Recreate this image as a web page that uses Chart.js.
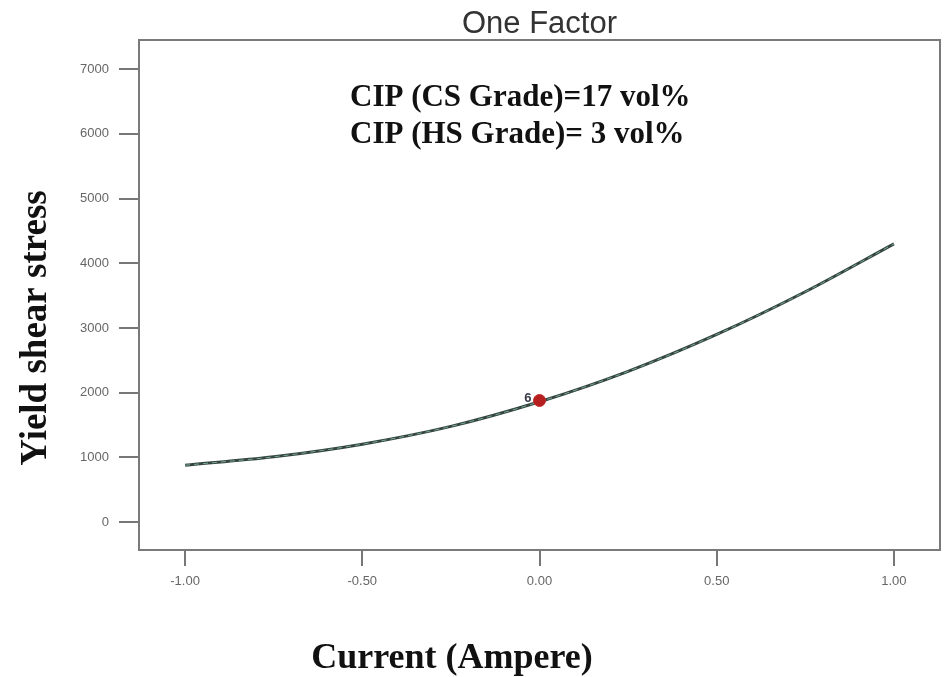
<!DOCTYPE html>
<html>
<head>
<meta charset="utf-8">
<script src="https://cdn.jsdelivr.net/npm/chart.js@4"></script>
<style>
  html, body { margin: 0; padding: 0; background: #fff; }
  #wrap { width: 948px; height: 677px; }
</style>
</head>
<body>
<div id="wrap"><canvas id="factorChart" width="948" height="677"></canvas></div>
<script>
// model curve, read at coded current levels
const currentLevels = [-1.0, -0.75, -0.5, -0.25, 0.0, 0.25, 0.5, 0.75, 1.0];
const shearStress = [880, 1010, 1205, 1480, 1860, 2330, 2900, 3560, 4300];

// center design point and its run count
const designX = [0.0];
const designY = [1880];
const designRuns = ['6'];

const yTicks = [0, 1000, 2000, 3000, 4000, 5000, 6000, 7000];
const xTicks = [-1.0, -0.5, 0.0, 0.5, 1.0];

const noteLines = ['CIP (CS Grade)=17 vol%', 'CIP (HS Grade)= 3 vol%'];

const curve = currentLevels.map((x, i) => ({ x, y: shearStress[i] }));
const design = designX.map((x, i) => ({ x, y: designY[i] }));

// frame, title, notes, run label and axis names
const decorations = {
  id: 'decorations',
  afterDraw(chart) {
    const { ctx, chartArea: a, scales: { x, y } } = chart;
    ctx.save();
    ctx.strokeStyle = '#7a7a7a';
    ctx.lineWidth = 2;
    ctx.strokeRect(a.left, a.top, a.right - a.left, a.bottom - a.top);

    ctx.fillStyle = '#333';
    ctx.font = '31px "Liberation Sans", Arial, sans-serif';
    ctx.textAlign = 'center';
    ctx.textBaseline = 'alphabetic';
    ctx.fillText('One Factor', (a.left + a.right) / 2, 33);

    ctx.fillStyle = '#111';
    ctx.font = 'bold 31px "Liberation Serif", serif';
    ctx.textAlign = 'left';
    ctx.fillText(noteLines[0], a.left + 211, 106);
    ctx.fillText(noteLines[1], a.left + 211, 143);

    ctx.font = 'bold 13px "Liberation Sans", sans-serif';
    ctx.fillStyle = '#3a3a4a';
    ctx.textAlign = 'right';
    ctx.textBaseline = 'middle';
    design.forEach((p, i) => {
      ctx.fillText(designRuns[i], x.getPixelForValue(p.x) - 8, y.getPixelForValue(p.y) - 2);
    });

    ctx.fillStyle = '#111';
    ctx.font = 'bold 36px "Liberation Serif", serif';
    ctx.textAlign = 'center';
    ctx.textBaseline = 'alphabetic';
    ctx.fillText('Current (Ampere)', 452, 668);
    ctx.translate(46, 328);
    ctx.rotate(-Math.PI / 2);
    ctx.font = 'bold 37px "Liberation Serif", serif';
    ctx.fillText('Yield shear stress', 0, 0);
    ctx.restore();
  }
};

new Chart(document.getElementById('factorChart'), {
  type: 'scatter',
  data: {
    datasets: [
      {
        label: 'design',
        data: design,
        pointRadius: 6,
        pointBackgroundColor: '#b51f1f',
        pointBorderColor: '#c42a2a',
        pointBorderWidth: 1,
        order: 0
      },
      {
        label: 'fit',
        type: 'line',
        data: curve,
        borderColor: '#34463f',
        borderWidth: 3,
        pointRadius: 0,
        tension: 0.4,
        cubicInterpolationMode: 'monotone',
        order: 2
      },
      {
        label: 'fit dash',
        type: 'line',
        data: curve,
        borderColor: '#7aa89a',
        borderWidth: 1,
        borderDash: [5, 4],
        pointRadius: 0,
        tension: 0.4,
        cubicInterpolationMode: 'monotone',
        order: 1
      }
    ]
  },
  options: {
    responsive: false,
    animation: false,
    layout: { padding: { left: 0, right: 8, top: 40, bottom: 0 } },
    plugins: {
      legend: { display: false },
      tooltip: { enabled: false },
      title: { display: false }
    },
    scales: {
      x: {
        type: 'linear',
        min: -1.13,
        max: 1.13,
        afterBuildTicks(s) { s.ticks = xTicks.map(v => ({ value: v })); },
        afterFit(s) { s.height = 127; },
        grid: { drawOnChartArea: false, drawTicks: true, tickLength: 16, color: '#777', lineWidth: 2 },
        border: { display: false },
        ticks: {
          color: '#666',
          padding: 8,
          font: { family: '"Liberation Sans", Arial, sans-serif', size: 13 },
          maxRotation: 0,
          callback: v => v.toFixed(2)
        }
      },
      y: {
        type: 'linear',
        min: -430,
        max: 7450,
        afterBuildTicks(s) { s.ticks = yTicks.map(v => ({ value: v })); },
        afterFit(s) { s.width = 139; },
        grid: { drawOnChartArea: false, drawTicks: true, tickLength: 20, color: '#777', lineWidth: 2 },
        border: { display: false },
        ticks: {
          color: '#666',
          padding: 10,
          font: { family: '"Liberation Sans", Arial, sans-serif', size: 13 },
          callback: v => String(v)
        }
      }
    }
  },
  plugins: [decorations]
});
</script>
</body>
</html>
